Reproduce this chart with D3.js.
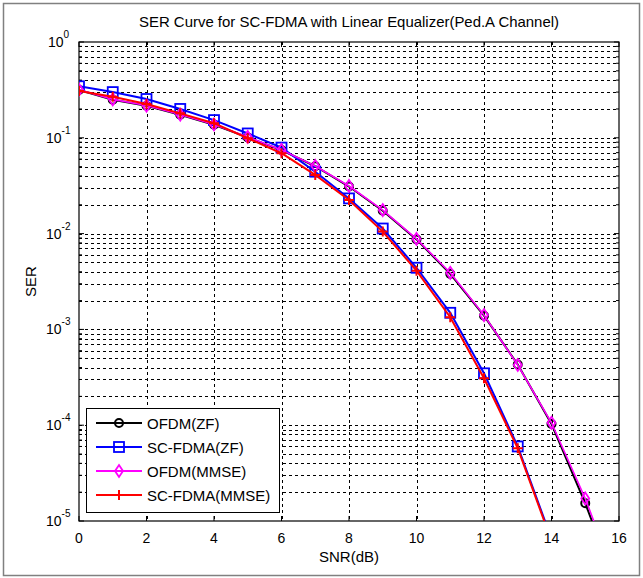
<!DOCTYPE html>
<html>
<head>
<meta charset="utf-8">
<script src="https://cdn.jsdelivr.net/npm/d3@7"></script>
<style>
  body { margin: 0; background: #fff; }
  text { font-family: "Liberation Sans", Arial, sans-serif; }
</style>
</head>
<body>
<div id="chart"></div>
<script>
// DATA
var snr = [0, 1, 2, 3, 4, 5, 6, 7, 8, 9, 10, 11, 12, 13, 14, 15, 16];
var ofdmZF = [0.315, 0.25, 0.216, 0.174, 0.137, 0.101, 0.0745, 0.0505, 0.031, 0.0173, 0.0087, 0.0038, 0.00139, 4.3e-4, 1.03e-4, 1.53e-5, 1.8e-6];
var scfdmaZF = [0.345, 0.30, 0.254, 0.20, 0.153, 0.111, 0.079, 0.0443, 0.0233, 0.0113, 0.0044, 0.00149, 3.48e-4, 6.0e-5, 6.5e-6];
var ofdmMMSE = [0.318, 0.252, 0.217, 0.175, 0.138, 0.102, 0.0748, 0.0508, 0.0314, 0.0176, 0.0088, 0.0039, 0.00141, 4.25e-4, 1.06e-4, 1.72e-5, 2.0e-6];
var scfdmaMMSE = [0.308, 0.268, 0.225, 0.18, 0.142, 0.099, 0.069, 0.041, 0.0224, 0.0105, 0.0041, 0.00134, 3.09e-4, 5.75e-5, 6.2e-6];
var xTicks = [0, 2, 4, 6, 8, 10, 12, 14, 16];
var yExps = [0, -1, -2, -3, -4, -5];
var seriesNames = ["OFDM(ZF)", "SC-FDMA(ZF)", "OFDM(MMSE)", "SC-FDMA(MMSE)"];
var seriesColors = ["#000000", "#0000ff", "#ff00ff", "#ff0000"];
var seriesMarkers = ["circle", "square", "diamond", "plus"];

var width = 643, height = 578;
var padL = 79, padR = 619, padT = 42, padB = 521;

var svg = d3.select("#chart").append("svg")
    .attr("width", width)
    .attr("height", height);

// figure frame
svg.append("rect")
    .attr("x", 3.5).attr("y", 3.5)
    .attr("width", 636).attr("height", 572)
    .attr("fill", "none").attr("stroke", "#808080").attr("stroke-width", 1.5);

var x = d3.scaleLinear().domain([0, 16]).range([padL, padR]);
var y = d3.scaleLog().domain([1e-5, 1]).range([padB, padT]);

// grid
var grid = svg.append("g").attr("stroke", "#000").attr("stroke-dasharray", "3,3").attr("stroke-width", 1);
xTicks.slice(1, -1).forEach(function(t) {
    grid.append("line")
        .attr("x1", Math.round(x(t)) + 0.5).attr("x2", Math.round(x(t)) + 0.5)
        .attr("y1", padT).attr("y2", padB);
});
for (var e = -5; e < 0; e++) {
    for (var m = 1; m <= 9; m++) {
        var v = m * Math.pow(10, e);
        if (e === -5 && m === 1) continue;
        grid.append("line")
            .attr("x1", padL).attr("x2", padR)
            .attr("y1", Math.round(y(v)) + 0.5).attr("y2", Math.round(y(v)) + 0.5);
    }
}

// axis box
svg.append("rect")
    .attr("x", padL).attr("y", padT)
    .attr("width", padR - padL).attr("height", padB - padT)
    .attr("fill", "none").attr("stroke", "#000").attr("stroke-width", 1.2);

// ticks (inward, both sides)
var ticks = svg.append("g").attr("stroke", "#000");
xTicks.forEach(function(t) {
    ticks.append("line").attr("x1", x(t)).attr("x2", x(t)).attr("y1", padB).attr("y2", padB - 5);
    ticks.append("line").attr("x1", x(t)).attr("x2", x(t)).attr("y1", padT).attr("y2", padT + 5);
});
for (var e2 = -5; e2 <= 0; e2++) {
    for (var m2 = 1; m2 <= 9; m2++) {
        var v2 = m2 * Math.pow(10, e2);
        if (v2 > 1) break;
        var len = m2 === 1 ? 5 : 3;
        ticks.append("line").attr("x1", padL).attr("x2", padL + len).attr("y1", y(v2)).attr("y2", y(v2));
        ticks.append("line").attr("x1", padR).attr("x2", padR - len).attr("y1", y(v2)).attr("y2", y(v2));
    }
}

// tick labels
svg.append("g").selectAll("text").data(xTicks).enter().append("text")
    .attr("x", function(d) { return x(d); })
    .attr("y", padB + 22)
    .attr("text-anchor", "middle")
    .attr("font-size", 14)
    .text(function(d) { return d; });

var yl = svg.append("g").selectAll("text").data(yExps).enter().append("text")
    .attr("x", padL - 17)
    .attr("y", function(d) { return y(Math.pow(10, d)) + 5; })
    .attr("text-anchor", "start")
    .attr("font-size", 14);
yl.each(function(d) {
    var t = d3.select(this);
    t.attr("x", d === 0 ? padL - 31 : padL - 33);
    t.append("tspan").text("10");
    t.append("tspan").attr("dy", -9).attr("font-size", 10).text(d);
});

// titles
svg.append("text")
    .attr("x", (padL + padR) / 2).attr("y", 27)
    .attr("text-anchor", "middle").attr("font-size", 15)
    .attr("textLength", 420).attr("lengthAdjust", "spacingAndGlyphs")
    .text("SER Curve for SC-FDMA with Linear Equalizer(Ped.A Channel)");
svg.append("text")
    .attr("x", (padL + padR) / 2).attr("y", 562)
    .attr("text-anchor", "middle").attr("font-size", 15)
    .text("SNR(dB)");
svg.append("text")
    .attr("transform", "translate(36," + ((padT + padB) / 2) + ") rotate(-90)")
    .attr("text-anchor", "middle").attr("font-size", 15)
    .text("SER");

// markers
function drawMarker(g, type, cx, cy, color) {
    if (type === "circle") {
        g.append("circle").attr("cx", cx).attr("cy", cy).attr("r", 4)
            .attr("fill", "none").attr("stroke", color).attr("stroke-width", 2);
    } else if (type === "square") {
        g.append("rect").attr("x", cx - 5).attr("y", cy - 5).attr("width", 10).attr("height", 10)
            .attr("fill", "none").attr("stroke", color).attr("stroke-width", 1.8);
    } else if (type === "diamond") {
        g.append("path").attr("d", "M" + cx + "," + (cy - 6) + "L" + (cx + 4) + "," + cy + "L" + cx + "," + (cy + 6) + "L" + (cx - 4) + "," + cy + "Z")
            .attr("fill", "none").attr("stroke", color).attr("stroke-width", 1.8);
    } else {
        g.append("path").attr("d", "M" + (cx - 5) + "," + cy + "H" + (cx + 5) + "M" + cx + "," + (cy - 5) + "V" + (cy + 5))
            .attr("stroke", color).attr("stroke-width", 2);
    }
}

svg.append("clipPath").attr("id", "clip").append("rect")
    .attr("x", padL).attr("y", padT).attr("width", padR - padL).attr("height", padB - padT);

var allSeries = [ofdmZF, scfdmaZF, ofdmMMSE, scfdmaMMSE];
var lineWidths = [2, 2, 1.6, 2];
var plot = svg.append("g").attr("clip-path", "url(#clip)");
var line = d3.line().x(function(d) { return x(d[0]); }).y(function(d) { return y(d[1]); });

allSeries.forEach(function(s, i) {
    var pts = s.map(function(v, j) { return [snr[j], v]; });
    var g = plot.append("g");
    g.append("path").datum(pts)
        .attr("d", line)
        .attr("fill", "none")
        .attr("stroke", seriesColors[i])
        .attr("stroke-width", lineWidths[i]);
    pts.forEach(function(p) {
        if (p[1] >= 1e-5) drawMarker(g, seriesMarkers[i], x(p[0]), y(p[1]), seriesColors[i]);
    });
});

// legend
var lg = svg.append("g");
lg.append("rect").attr("x", 86.5).attr("y", 408.5).attr("width", 193).attr("height", 104)
    .attr("fill", "#fff").attr("stroke", "#000").attr("stroke-width", 1);
seriesNames.forEach(function(name, i) {
    var ly = 423 + i * 24;
    lg.append("line").attr("x1", 96).attr("x2", 142).attr("y1", ly).attr("y2", ly)
        .attr("stroke", seriesColors[i]).attr("stroke-width", 2);
    drawMarker(lg, seriesMarkers[i], 119, ly, seriesColors[i]);
    lg.append("text").attr("x", 147).attr("y", ly + 6)
        .attr("font-size", 15)
        .text(name);
});
</script>
</body>
</html>
